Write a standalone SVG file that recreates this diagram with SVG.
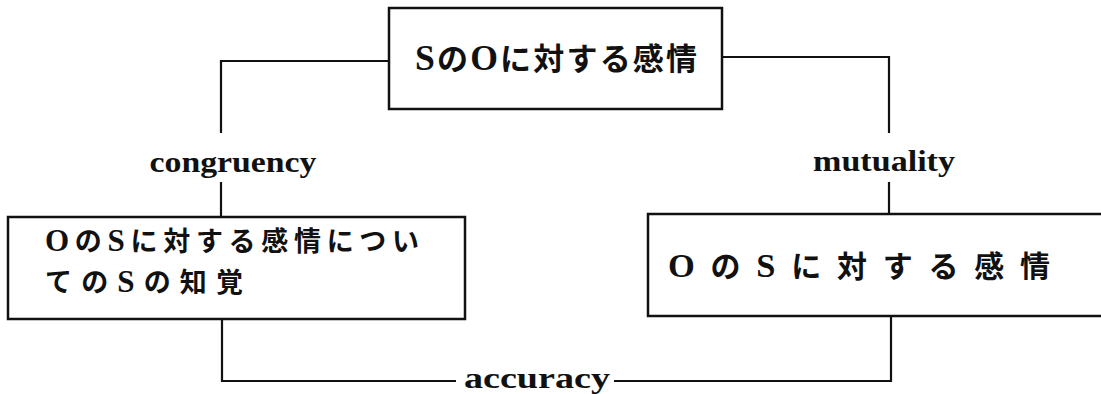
<svg xmlns="http://www.w3.org/2000/svg" width="1101" height="394" viewBox="0 0 1101 394">
<style>
.box{fill:none;stroke:#111;stroke-width:2.5}
.ln{fill:none;stroke:#111;stroke-width:2.2}
.jp{font-family:"Noto Sans CJK JP","Noto Sans CJK SC",sans-serif;font-weight:bold;fill:#111}
.lat{font-family:"Liberation Serif",serif;font-weight:bold;font-size:1.15em}
.lbl{font-family:"Liberation Serif",serif;font-weight:bold;fill:#111;font-size:30px}
</style>
<rect width="1101" height="394" fill="#fff"/>
<g id="connectors">
<polyline class="ln" points="389,61 221,61 221,133"/>
<line class="ln" x1="221" y1="182" x2="221" y2="217"/>
<polyline class="ln" points="722,57 889,57 889,133"/>
<line class="ln" x1="889" y1="182" x2="889" y2="214"/>
<polyline class="ln" points="222,319 222,381 456,381"/>
<polyline class="ln" points="614,381 891,381 891,316"/>
<text class="lbl" x="233" y="172" text-anchor="middle" textLength="167" lengthAdjust="spacingAndGlyphs">congruency</text>
<text class="lbl" x="884" y="171" text-anchor="middle" textLength="142" lengthAdjust="spacingAndGlyphs">mutuality</text>
<text class="lbl" x="537" y="388" text-anchor="middle" textLength="146" lengthAdjust="spacingAndGlyphs">accuracy</text>
</g>
<g id="node-top">
<rect class="box" x="389" y="8" width="333" height="101"/>
<text class="jp" x="415" y="70" font-size="31" textLength="282" lengthAdjust="spacing"><tspan class="lat">S</tspan>の<tspan class="lat">O</tspan>に対する感情</text>
</g>
<g id="node-left">
<rect class="box" x="8" y="217" width="457" height="102"/>
<text class="jp" x="45" y="251" font-size="27" textLength="374" lengthAdjust="spacing"><tspan class="lat">O</tspan>の<tspan class="lat">S</tspan>に対する感情につい</text>
<text class="jp" x="45" y="292" font-size="27" textLength="198" lengthAdjust="spacing">ての<tspan class="lat">S</tspan>の知覚</text>
</g>
<g id="node-right">
<path class="box" d="M1110,214 H648 V316 H1110"/>
<text class="jp" x="668" y="277" font-size="30" textLength="382" lengthAdjust="spacing"><tspan class="lat">O</tspan>の<tspan class="lat">S</tspan>に対する感情</text>
</g>
</svg>
